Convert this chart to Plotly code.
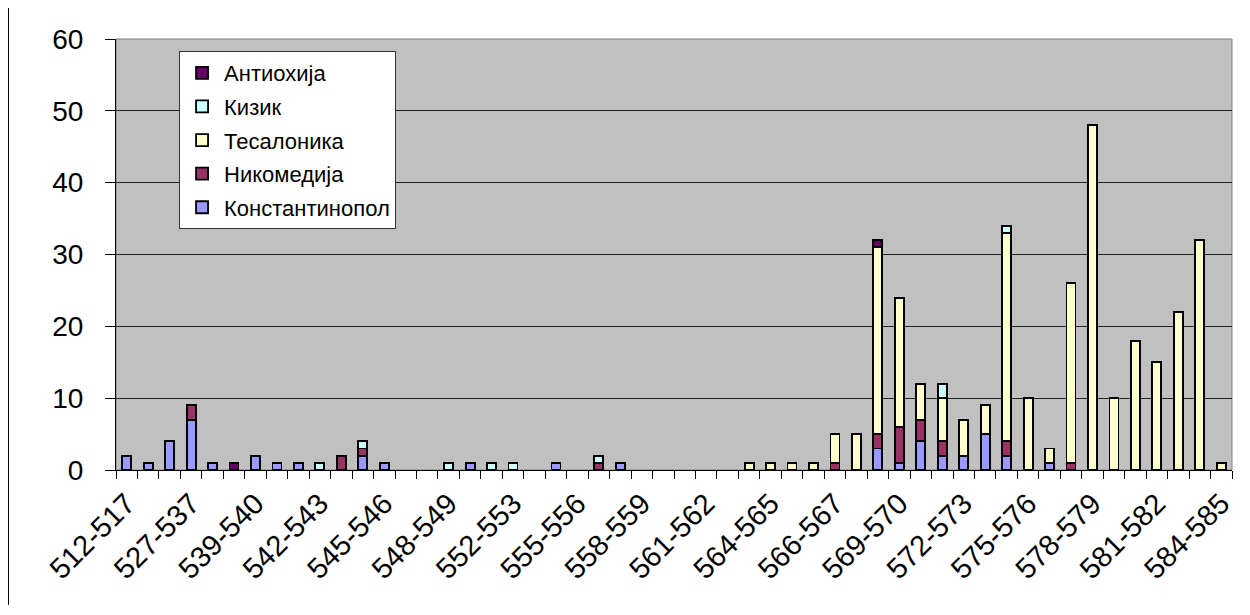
import plotly.graph_objects as go

categories = [
    "512-517", "518-522", "522-527", "527-537", "537-538", "538-539",
    "539-540", "540-541", "541-542", "542-543", "543-544", "544-545",
    "545-546", "546-547", "547-548", "548-549", "549-550", "550-551",
    "552-553", "553-554", "554-555", "555-556", "556-557", "557-558",
    "558-559", "559-560", "560-561", "561-562", "562-563", "563-564",
    "564-565", "565", "565-566", "566-567", "567-568", "568-569",
    "569-570", "570-571", "571-572", "572-573", "573-574", "574-575",
    "575-576", "576-577", "577-578", "578-579", "579-580", "580-581",
    "581-582", "582-583", "583-584", "584-585",
]

konstantinopol = [2, 1, 4, 7, 1, 0, 2, 1, 1, 0, 0, 2, 1, 0, 0, 0, 1, 0,
                  0, 0, 1, 0, 0, 1, 0, 0, 0, 0, 0, 0, 0, 0, 0, 0, 0, 3,
                  1, 4, 2, 2, 5, 2, 0, 1, 0, 0, 0, 0, 0, 0, 0, 0]
nikomedija = [0, 0, 0, 2, 0, 0, 0, 0, 0, 0, 2, 1, 0, 0, 0, 0, 0, 0,
              0, 0, 0, 0, 1, 0, 0, 0, 0, 0, 0, 0, 0, 0, 0, 1, 0, 2,
              5, 3, 2, 0, 0, 2, 0, 0, 1, 0, 0, 0, 0, 0, 0, 0]
tesalonika = [0, 0, 0, 0, 0, 0, 0, 0, 0, 0, 0, 0, 0, 0, 0, 0, 0, 0,
              0, 0, 0, 0, 0, 0, 0, 0, 0, 0, 0, 1, 1, 1, 1, 4, 5, 26,
              18, 5, 6, 5, 4, 29, 10, 2, 25, 48, 10, 18, 15, 22, 32, 1]
kizik = [0, 0, 0, 0, 0, 0, 0, 0, 0, 1, 0, 1, 0, 0, 0, 1, 0, 1,
         1, 0, 0, 0, 1, 0, 0, 0, 0, 0, 0, 0, 0, 0, 0, 0, 0, 0,
         0, 0, 2, 0, 0, 1, 0, 0, 0, 0, 0, 0, 0, 0, 0, 0]
antiohija = [0, 0, 0, 0, 0, 1, 0, 0, 0, 0, 0, 0, 0, 0, 0, 0, 0, 0,
             0, 0, 0, 0, 0, 0, 0, 0, 0, 0, 0, 0, 0, 0, 0, 0, 0, 1,
             0, 0, 0, 0, 0, 0, 0, 0, 0, 0, 0, 0, 0, 0, 0, 0]

series_names = ["Константинопол", "Никомедија", "Тесалоника", "Кизик", "Антиохија"]
series_values = [konstantinopol, nikomedija, tesalonika, kizik, antiohija]
series_colors = ["#9999FF", "#993366", "#FFFFCC", "#CCFFFF", "#660066"]

tick_labels = [c if i % 3 == 0 else "" for i, c in enumerate(categories)]

FONT = "Liberation Sans, Arial, sans-serif"

fig = go.Figure()
n_series = len(series_names)
for k, (name, vals, col) in enumerate(zip(series_names, series_values, series_colors)):
    fig.add_trace(go.Bar(
        x=categories,
        y=[v if v else None for v in vals],
        name=name,
        legendgroup=name,
        legendrank=n_series - k,
        marker=dict(color=col, line=dict(color="#000000", width=1.8)),
    ))

# page body has an 8px margin: figure sized/offset to compensate
fig.update_layout(
    width=1242, height=607,
    barmode="stack",
    bargap=0.58,
    paper_bgcolor="#FFFFFF",
    plot_bgcolor="#C0C0C0",
    margin=dict(l=108, r=18, t=31, b=145, autoexpand=False),
    font=dict(family=FONT, color="#000000"),
    showlegend=True,
    legend=dict(
        x=0.0565, y=0.972, xanchor="left", yanchor="top",
        bgcolor="#FFFFFF", bordercolor="#333333", borderwidth=1,
        font=dict(size=22, family=FONT, color="#000000"),
        traceorder="grouped",
        tracegroupgap=2,
        itemwidth=34,
    ),
    xaxis=dict(
        type="category",
        categoryorder="array", categoryarray=categories,
        tickmode="array", tickvals=categories, ticktext=tick_labels,
        tickson="boundaries",
        ticks="outside", ticklen=8, tickcolor="#000000", tickwidth=1,
        tickangle=-45,
        tickfont=dict(size=29, family=FONT, color="#000000"),
        showline=True, linecolor="#000000", linewidth=1,
        showgrid=False,
        automargin=False,
        ticklabelstandoff=4,
        range=[-0.5, len(categories) - 0.5],
    ),
    yaxis=dict(
        range=[0, 60], dtick=10,
        ticks="outside", ticklen=10, tickcolor="#000000", tickwidth=1,
        tickfont=dict(size=28, family=FONT, color="#000000"),
        showline=True, linecolor="#000000", linewidth=1,
        showgrid=True, gridcolor="#222222", gridwidth=1,
        zeroline=False,
        automargin=False,
        ticklabelstandoff=16,
    ),
    shapes=[
        dict(type="rect", xref="paper", yref="paper", x0=0, x1=1, y0=0, y1=1,
             line=dict(color="#808080", width=1), fillcolor="rgba(0,0,0,0)",
             layer="below"),
        dict(type="line", xref="paper", yref="paper",
             x0=-0.0963, x1=-0.0963, y0=-0.313, y1=1.075,
             line=dict(color="#000000", width=1)),
    ],
)

fig.write_html("out.html")
